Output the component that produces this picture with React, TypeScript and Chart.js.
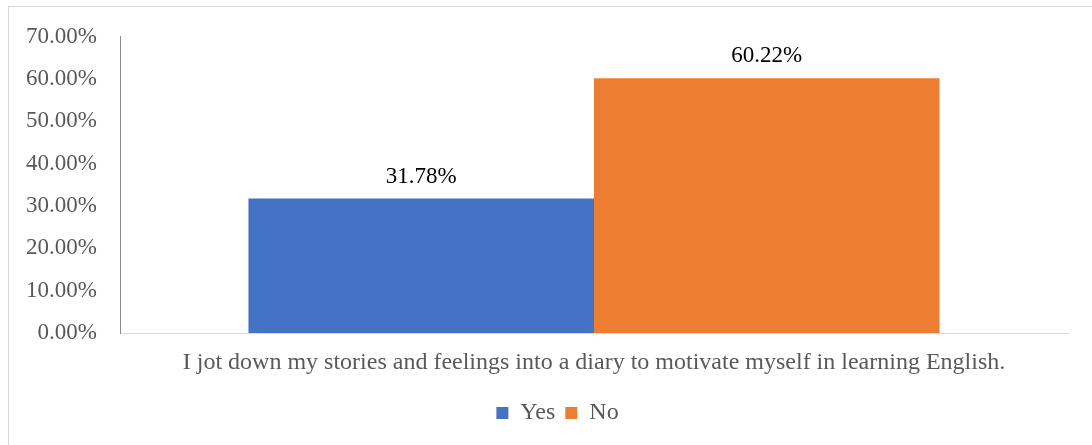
import React, { useEffect, useRef } from "react";
import { Chart, registerables } from "chart.js";

Chart.register(...registerables);

const categories = [
  "I jot down my stories and feelings into a diary to motivate myself in learning English.",
];
const seriesNames = ["Yes", "No"];
const yesValues = [31.78];
const noValues = [60.22];
const seriesColors = ["#4472C4", "#ED7D31"];
const yMin = 0;
const yMax = 70;
const yStep = 10;

const FONT = "'Liberation Serif', 'Times New Roman', serif";

const dataLabelPlugin = {
  id: "dataLabels",
  afterDatasetsDraw(chart: any) {
    const ctx = chart.ctx;
    ctx.save();
    ctx.font = `23px ${FONT}`;
    ctx.fillStyle = "#000000";
    ctx.textAlign = "center";
    ctx.textBaseline = "alphabetic";
    chart.data.datasets.forEach((ds: any, di: number) => {
      const meta = chart.getDatasetMeta(di);
      meta.data.forEach((el: any, i: number) => {
        const v = ds.data[i] as number;
        ctx.fillText(v.toFixed(2) + "%", el.x, el.y - 16);
      });
    });
    ctx.restore();
  },
};

// centre the legend on the (wider) chart frame rather than on the canvas
const legendShiftPlugin = {
  id: "legendShift",
  afterLayout(chart: any) {
    const lg = chart.legend;
    if (lg) {
      lg.left = 47;
    }
  },
};

export default function App() {
  const ref = useRef<HTMLCanvasElement | null>(null);
  useEffect(() => {
    if (!ref.current) return;
    const chart = new Chart(ref.current, {
      type: "bar",
      data: {
        labels: categories,
        datasets: [
          {
            label: seriesNames[0],
            data: yesValues,
            backgroundColor: seriesColors[0],
            categoryPercentage: 0.729,
            barPercentage: 1.0,
          },
          {
            label: seriesNames[1],
            data: noValues,
            backgroundColor: seriesColors[1],
            categoryPercentage: 0.729,
            barPercentage: 1.0,
          },
        ],
      },
      options: {
        responsive: false,
        animation: false,
        layout: { padding: { left: 0, right: 24, top: 36, bottom: 10 } },
        plugins: {
          legend: {
            position: "bottom",
            labels: {
              boxWidth: 12,
              boxHeight: 12,
              padding: 10,
              color: "#595959",
              font: { family: FONT, size: 24 },
            },
          },
          tooltip: { enabled: false },
        },
        scales: {
          x: {
            grid: { display: false, drawTicks: false },
            border: { display: true, color: "#d9d9d9", width: 1 },
            ticks: {
              color: "#595959",
              font: { family: FONT, size: 24 },
              padding: 15.6,
              maxRotation: 0,
            },
            afterFit(scale: any) {
              scale.height = 58;
            },
          },
          y: {
            min: yMin,
            max: yMax,
            grid: { display: false, drawTicks: false },
            border: { display: true, color: "#8c8c8c", width: 1 },
            ticks: {
              stepSize: yStep,
              color: "#595959",
              font: { family: FONT, size: 23 },
              padding: 23,
              callback: (v: any) => Number(v).toFixed(2) + "%",
            },
            afterFit(scale: any) {
              scale.width = 120;
            },
          },
        },
      },
      plugins: [dataLabelPlugin, legendShiftPlugin],
    });
    return () => chart.destroy();
  }, []);

  return (
    <div
      style={{
        position: "absolute",
        left: 0,
        top: 0,
        width: 1092,
        height: 445,
        overflow: "hidden",
        background: "#ffffff",
      }}
    >
      <div
        style={{
          position: "absolute",
          left: 8,
          top: 6,
          width: 1200,
          height: 600,
          border: "1px solid #d9d9d9",
          boxSizing: "border-box",
        }}
      />
      <canvas
        ref={ref}
        width={1092}
        height={445}
        style={{ position: "absolute", left: 0, top: 0 }}
      />
    </div>
  );
}
